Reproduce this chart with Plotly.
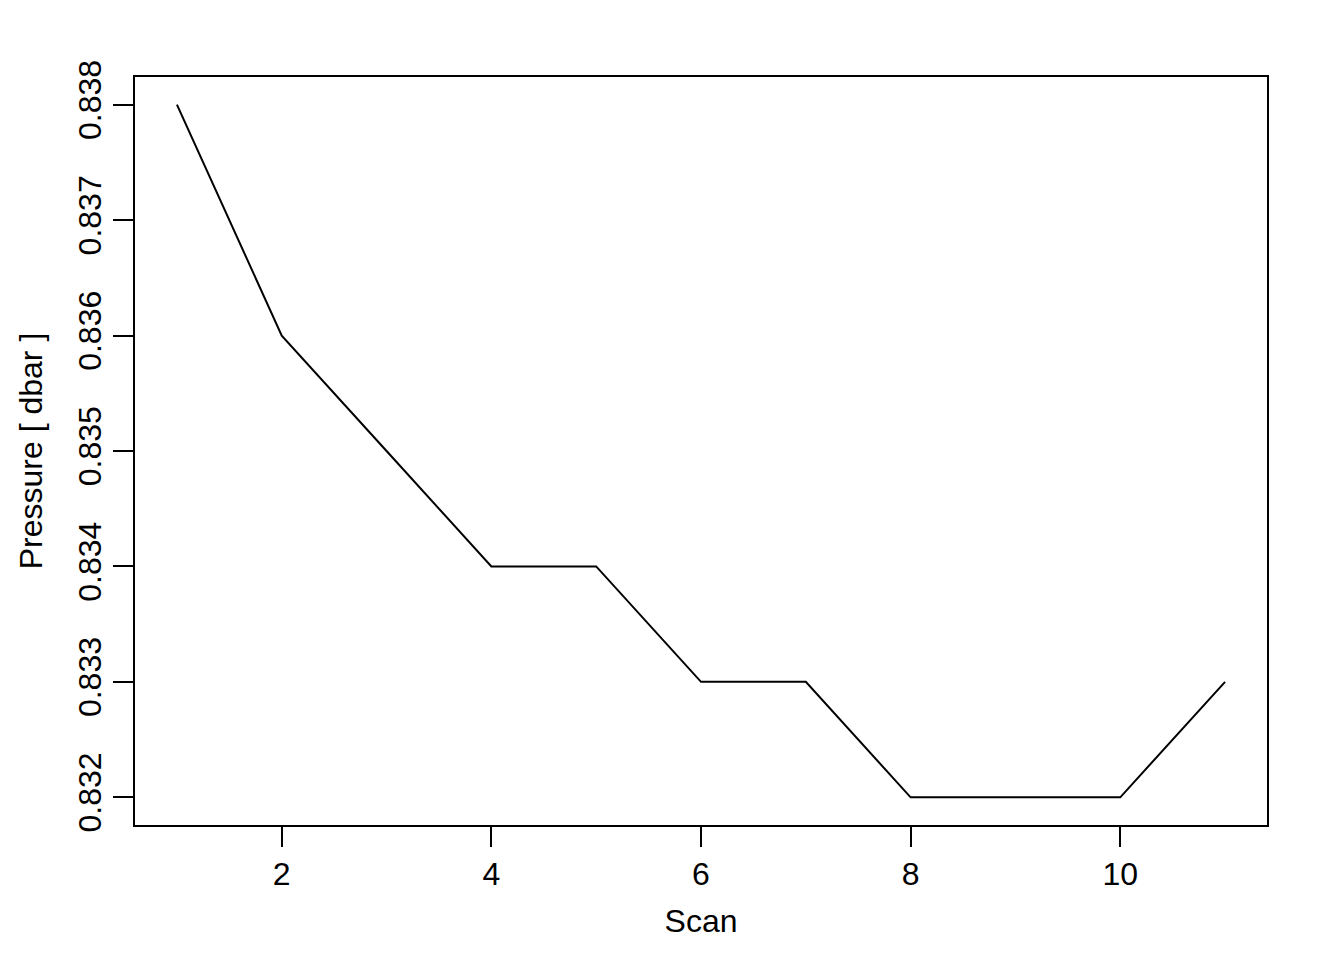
import plotly.graph_objects as go

scan = [1, 2, 3, 4, 5, 6, 7, 8, 9, 10, 11]
pressure = [0.838, 0.836, 0.835, 0.834, 0.834, 0.833, 0.833, 0.832, 0.832, 0.832, 0.833]
x_ticks = [2, 4, 6, 8, 10]
y_ticks = [0.832, 0.833, 0.834, 0.835, 0.836, 0.837, 0.838]

font = dict(family="Liberation Sans, Arial, sans-serif", size=32, color="black")

fig = go.Figure(go.Scatter(x=scan, y=pressure, mode="lines",
                           line=dict(color="black", width=2)))

xpad = (max(scan) - min(scan)) * 0.04
ypad = (max(pressure) - min(pressure)) * 0.04

axis_common = dict(showgrid=False, zeroline=False, showline=True, mirror=True,
                   linecolor="black", linewidth=2, ticks="outside", ticklen=20,
                   tickwidth=2, tickcolor="black", tickfont=font)

fig.update_layout(
    width=1344, height=960,
    template="plotly_white",
    plot_bgcolor="white", paper_bgcolor="white",
    margin=dict(l=127, r=85, t=69, b=143),
    font=font,
    showlegend=False,
    xaxis=dict(range=[min(scan) - xpad, max(scan) + xpad], tickvals=x_ticks,
               title=dict(text="Scan", font=font, standoff=18), **axis_common),
    yaxis=dict(range=[min(pressure) - ypad, max(pressure) + ypad], tickvals=y_ticks,
               tickformat=".3f", tickangle=-90, ticklabelstandoff=-1,
               title=dict(text="Pressure [ dbar ]", font=font, standoff=20), **axis_common),
)

fig.write_html("out.html")
